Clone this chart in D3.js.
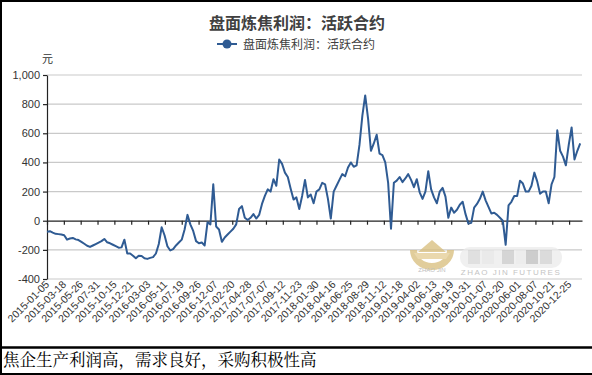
<!DOCTYPE html>
<html><head><meta charset="utf-8">
<script src="https://cdn.jsdelivr.net/npm/d3@7"></script>
<style>body{margin:0;background:#fff;} svg{display:block;}</style>
</head><body>
<svg id="chart" width="592" height="375"></svg>
<script>
const chartTitle = "盘面炼焦利润：活跃合约";
const seriesName = "盘面炼焦利润：活跃合约";
const unitLabel = "元";
const footnote = "焦企生产利润高，需求良好，采购积极性高";
const tickLabels = ["2015-01-05","2015-03-18","2015-05-26","2015-07-31","2015-10-15","2015-12-21",
  "2016-03-03","2016-05-11","2016-07-19","2016-09-26","2016-12-07","2017-02-20","2017-04-28",
  "2017-07-07","2017-09-12","2017-11-23","2018-01-30","2018-04-16","2018-06-25","2018-08-29",
  "2018-11-12","2019-01-18","2019-04-02","2019-06-13","2019-08-19","2019-10-31","2020-01-07",
  "2020-03-20","2020-06-01","2020-08-07","2020-10-21","2020-12-25"];
const labelStep = 47;      // trading days between labels
const totalDays = 1493;    // trading days on the axis
const sampleStep = 8;      // trading days between samples below
const profit = [
 -75,-72,-82,-90,-92,-95,-100,-130,-122,-118,-128,-133,-145,-158,-172,-180,-170,-160,-150,-140,
 -125,-148,-155,-165,-175,-185,-183,-130,-225,-225,-240,-258,-240,-242,-258,-262,-255,-250,-225,-160,
 -45,-100,-175,-204,-195,-170,-150,-130,-60,40,-25,-70,-140,-155,-150,-170,-10,-25,250,-40,
 -60,-145,-115,-95,-75,-55,-25,80,100,20,5,20,45,15,40,115,170,215,200,285,
 240,420,390,330,300,220,145,160,80,170,280,160,180,120,200,215,260,250,150,15,
 200,240,280,320,305,365,400,370,380,520,720,860,700,480,530,590,460,450,400,260,
 -55,260,275,300,265,290,320,280,230,285,195,150,200,340,215,160,120,200,225,165,
 20,90,55,75,110,130,45,-20,-15,90,115,150,200,140,95,50,55,40,20,0,
 -165,105,130,170,170,275,255,200,200,240,330,270,185,200,200,120,250,300,620,480,
 440,380,520,640,420,480,530
];
const yTicks = [-400,-200,0,200,400,600,800,1000];

const svg = d3.select("#chart");
const L = 47, R = 582, T = 75, B = 279;
const x = d3.scaleLinear().domain([0, totalDays]).range([L, R]);
const y = d3.scaleLinear().domain([-400, 1000]).range([B, T]);
const numFont = "'Liberation Sans', Arial, sans-serif";
const cjkFont = "'Noto Sans CJK SC', sans-serif";

svg.append("rect").attr("x",0).attr("y",0).attr("width",592).attr("height",375).attr("fill","#fff");

// gridlines
svg.append("g").selectAll("line").data(yTicks.filter(d => d !== 0)).join("line")
  .attr("x1", L).attr("x2", R).attr("y1", d => y(d)).attr("y2", d => y(d))
  .attr("stroke", "#c9c9c9").attr("stroke-width", 1.2);

// y axis
const yAxis = svg.append("g").attr("transform", `translate(${L},0)`)
  .call(d3.axisLeft(y).tickValues(yTicks).tickSize(4).tickSizeOuter(0)
    .tickFormat(d => d3.format(",")(d).replace("\u2212", "-")));
yAxis.selectAll("path,line").attr("stroke", "#222").attr("stroke-width", 1.2);
yAxis.selectAll("text").attr("font-family", numFont).attr("font-size", 11)
  .attr("fill", "#333").attr("x", -7);

// x axis on zero line
const tickVals = tickLabels.map((d, i) => i * labelStep);
const xAxis = svg.append("g").attr("transform", `translate(0,${y(0)})`)
  .call(d3.axisBottom(x).tickValues(tickVals).tickSize(4).tickSizeOuter(0).tickFormat(""));
xAxis.selectAll("path,line").attr("stroke", "#222").attr("stroke-width", 1.2);

// x labels (low position)
svg.append("g").selectAll("text").data(tickLabels).join("text")
  .attr("transform", (d, i) => `translate(${x(i * labelStep) + 3},${B + 6}) rotate(-45)`)
  .attr("text-anchor", "end").attr("font-family", numFont).attr("font-size", 10.5)
  .attr("fill", "#333").text(d => d);

// series line
const line = d3.line().x((d, i) => x(i * sampleStep)).y(d => y(d));
svg.append("path").datum(profit).attr("d", line).attr("fill", "none")
  .attr("stroke", "#2f5b93").attr("stroke-width", 2).attr("stroke-linejoin", "round");

// title
svg.append("text").attr("x", 297).attr("y", 29).attr("text-anchor", "middle")
  .attr("font-family", cjkFont).attr("font-weight", "bold").attr("font-size", 16)
  .attr("fill", "#404040").text(chartTitle);

// legend
const lg = svg.append("g");
lg.append("line").attr("x1", 217).attr("x2", 237).attr("y1", 44).attr("y2", 44)
  .attr("stroke", "#2f5b93").attr("stroke-width", 2);
lg.append("circle").attr("cx", 227).attr("cy", 44).attr("r", 4.5).attr("fill", "#2f5b93");
lg.append("text").attr("x", 243).attr("y", 48.5).attr("font-family", cjkFont)
  .attr("font-size", 12).attr("fill", "#404040").text(seriesName);

// unit
svg.append("text").attr("x", 42).attr("y", 63).attr("font-family", cjkFont)
  .attr("font-size", 11).attr("fill", "#333").text(unitLabel);

// watermark
const wm = svg.append("g").attr("opacity", 0.75);
wm.append("path").attr("d", "M410,250 A22,20 0 0 0 454,250 L447,250 A15,13 0 0 1 417,250 Z").attr("fill", "#d8bd7a");
wm.append("path").attr("d", "M418,252 L432,240 L446,252 Z").attr("fill", "#d8bd7a");
wm.append("path").attr("d", "M414,253 L450,253 L446,259 L418,259 Z").attr("fill", "#e3cc92");
wm.append("text").attr("x", 432).attr("y", 272).attr("text-anchor", "middle")
  .attr("font-family", numFont).attr("font-size", 6).attr("fill", "#aaa").text("ZHAO JIN");
wm.append("rect").attr("x", 460).attr("y", 247).attr("width", 102).attr("height", 21).attr("rx", 10)
  .attr("fill", "#ececec");
[[468,"#d6d6d6"],[482,"#e4e4e4"],[502,"#c8c8c8"],[516,"#e8e8e8"],[526,"#bdbdbd"],[540,"#d0d0d0"]].forEach(([px, c]) => {
  wm.append("rect").attr("x", px).attr("y", 250).attr("width", 12).attr("height", 14).attr("fill", c);
});
wm.append("text").attr("x", 511).attr("y", 275).attr("text-anchor", "middle")
  .attr("font-family", numFont).attr("font-size", 8).attr("letter-spacing", 1.5)
  .attr("fill", "#b0b0b0").text("ZHAO JIN FUTURES");

// page borders and footnote
svg.append("line").attr("x1", 0).attr("x2", 592).attr("y1", 1).attr("y2", 1).attr("stroke", "#000").attr("stroke-width", 2);
svg.append("line").attr("x1", 1).attr("x2", 1).attr("y1", 0).attr("y2", 375).attr("stroke", "#000").attr("stroke-width", 2);
svg.append("line").attr("x1", 0).attr("x2", 592).attr("y1", 347.5).attr("y2", 347.5).attr("stroke", "#000").attr("stroke-width", 2.5);
svg.append("line").attr("x1", 0).attr("x2", 592).attr("y1", 374).attr("y2", 374).attr("stroke", "#000").attr("stroke-width", 2);
svg.append("text").attr("x", 3).attr("y", 366).attr("font-family", "'Noto Serif CJK SC', 'Noto Sans CJK SC', serif")
  .attr("font-size", 16.5).attr("fill", "#000").text(footnote);
</script>
</body></html>
